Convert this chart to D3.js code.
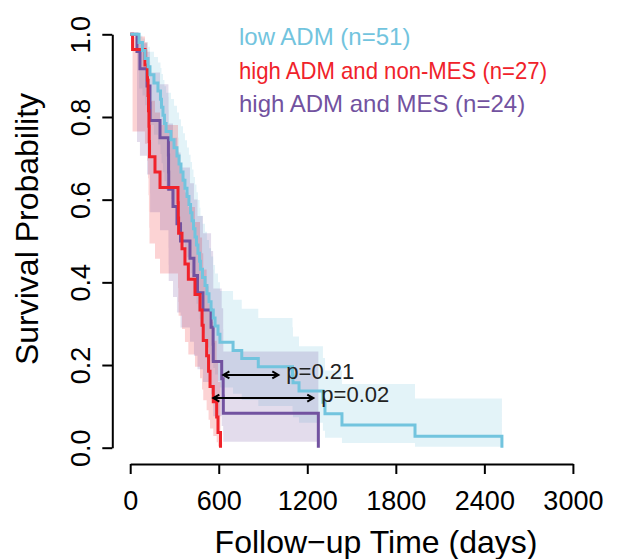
<!DOCTYPE html>
<html>
<head>
<meta charset="utf-8">
<script src="https://cdn.jsdelivr.net/npm/d3@7"></script>
<style>
  body { margin: 0; background: #fff; }
  svg { display: block; }
  text { font-family: "Liberation Sans", Arial, Helvetica, sans-serif; }
</style>
</head>
<body>
<svg id="chart" width="628" height="559"></svg>
<script>
// Follow-up in days: deaths and censored observations for each group
const lowAdmDeaths = [60, 83, 100, 121, 134, 161, 188, 205, 212, 222, 232, 243, 276, 297, 317,
  331, 344, 358, 371, 385, 398, 409, 419, 429, 439, 449, 459, 470, 476, 490, 507, 520, 534, 548,
  563, 575, 595, 608, 697, 756, 868, 1100, 1103, 1144, 1306, 1320, 1435, 1930, 2519];
const lowAdmCensored = [1184, 1218];

const nonMesDeaths = [16, 100, 117, 121, 124, 127, 129, 131, 168, 202, 324, 326, 328, 351, 371,
  394, 439, 473, 487, 495, 518, 531, 541, 563, 586, 595, 612];
const nonMesCensored = [];

const mesDeaths = [46, 66, 114, 134, 135, 202, 259, 260, 261, 290, 317, 341, 405, 432, 456, 493,
  548, 562, 563, 620, 630, 631, 1275];
const mesCensored = [900];

const groupNames = ["low ADM (n=51)", "high ADM and non-MES (n=27)", "high ADM and MES (n=24)"];
const groupColors = ["#72C4DE", "#F0222A", "#7252A0"];

const xTicks = [0, 600, 1200, 1800, 2400, 3000];
const yTicks = [0, 0.2, 0.4, 0.6, 0.8, 1.0];

// log-rank comparisons: label, from-day, to-day, survival level of the arrow
const pLabels = ["p=0.21", "p=0.02"];
const pFrom = [631, 563];
const pTo = [1004, 1241];
const pLevel = [0.176, 0.12];

// Kaplan-Meier estimate with log-log 95% confidence limits
function kaplanMeier(deaths, censored) {
  const obs = deaths.map(t => ({ t, d: 1 })).concat(censored.map(t => ({ t, d: 0 })));
  const times = Array.from(new Set(obs.map(o => o.t))).sort((a, b) => a - b);
  let atRisk = obs.length, s = 1, gw = 0;
  const steps = [{ t: 0, s: 1, lo: 1, hi: 1 }];
  for (const t of times) {
    const here = obs.filter(o => o.t === t);
    const d = here.filter(o => o.d === 1).length;
    if (d > 0) {
      s *= (atRisk - d) / atRisk;
      if (atRisk - d > 0) gw += d / (atRisk * (atRisk - d));
      let lo = NaN, hi = NaN;
      if (s > 0 && s < 1) {
        const z = 1.96 * Math.sqrt(gw) / Math.abs(Math.log(s));
        lo = Math.pow(s, Math.exp(z));
        hi = Math.pow(s, Math.exp(-z));
      }
      steps.push({ t, s, lo, hi });
    }
    atRisk -= here.length;
  }
  return steps;
}

const groups = [
  kaplanMeier(lowAdmDeaths, lowAdmCensored),
  kaplanMeier(nonMesDeaths, nonMesCensored),
  kaplanMeier(mesDeaths, mesCensored)
];

const svg = d3.select("#chart");
const x = d3.scaleLinear().domain([0, 3000]).range([130.2, 572.9]);
const y = d3.scaleLinear().domain([0, 1]).range([447.7, 34.3]);

// confidence bands (stepped), ending at the last death
const area = d3.area()
  .curve(d3.curveStepAfter)
  .x(d => x(d.t))
  .y0(d => y(d.lo))
  .y1(d => y(d.hi));

groups.forEach((steps, i) => {
  const band = [];
  steps.forEach((p, j) => {
    if (!isNaN(p.lo)) band.push(p);
    else if (j > 0) band.push({ t: p.t, lo: steps[j - 1].lo, hi: steps[j - 1].hi });
  });
  const last = steps[steps.length - 1];
  if (!isNaN(last.lo)) band.push({ t: last.t, lo: last.lo, hi: last.hi });
  svg.append("path")
    .attr("d", area(band))
    .attr("fill", groupColors[i])
    .attr("fill-opacity", 0.2)
    .attr("stroke", "none");
});

// survival curves
const line = d3.line()
  .curve(d3.curveStepAfter)
  .x(d => x(d.t))
  .y(d => y(d.s));

[2, 1, 0].forEach(i => {
  svg.append("path")
    .attr("d", line(groups[i]))
    .attr("fill", "none")
    .attr("stroke", groupColors[i])
    .attr("stroke-width", 3)
    .attr("stroke-linejoin", "miter")
    .attr("stroke-linecap", "butt");
});

// axes
const xAxis = svg.append("g")
  .attr("transform", "translate(0,464)")
  .call(d3.axisBottom(x).tickValues(xTicks).tickFormat(d3.format("d")).tickSizeOuter(0).tickSizeInner(10));
xAxis.select(".domain").attr("stroke", "#000").attr("stroke-width", 2);
xAxis.selectAll(".tick line").attr("stroke", "#000").attr("stroke-width", 2);
xAxis.selectAll(".tick text")
  .attr("y", 45.5).attr("dy", null)
  .attr("fill", "#000").attr("font-size", 27).attr("font-family", null);

const yAxis = svg.append("g")
  .attr("transform", "translate(112.3,0)")
  .call(d3.axisLeft(y).tickValues(yTicks).tickFormat(d3.format(".1f")).tickSizeOuter(0).tickSizeInner(10));
yAxis.select(".domain").attr("stroke", "#000").attr("stroke-width", 2);
yAxis.selectAll(".tick line").attr("stroke", "#000").attr("stroke-width", 2);
yAxis.selectAll(".tick text")
  .attr("x", null).attr("dy", null)
  .attr("transform", "translate(-22,0) rotate(-90)")
  .attr("text-anchor", "middle")
  .attr("fill", "#000").attr("font-size", 27).attr("font-family", null);

svg.append("text")
  .attr("x", 376).attr("y", 553)
  .attr("text-anchor", "middle")
  .attr("font-size", 32)
  .text("Follow\u2212up Time (days)");

svg.append("text")
  .attr("transform", "translate(38,229) rotate(-90)")
  .attr("text-anchor", "middle")
  .attr("font-size", 32)
  .text("Survival Probability");

// legend (the long middle entry is set a little tighter)
groupNames.forEach((name, i) => {
  const t = svg.append("text")
    .attr("x", 239).attr("y", 45 + i * 33.7)
    .attr("font-size", 24)
    .attr("fill", groupColors[i])
    .text(name);
  if (i === 1) t.attr("textLength", 308).attr("lengthAdjust", "spacingAndGlyphs");
});

// comparison arrows with p-values
function arrowHead(g, xTip, yTip, dir) {
  const len = 7, ang = Math.PI / 6;
  const pts = [
    [xTip - dir * len * Math.cos(ang), yTip - len * Math.sin(ang)],
    [xTip, yTip],
    [xTip - dir * len * Math.cos(ang), yTip + len * Math.sin(ang)]
  ];
  g.append("path")
    .attr("d", d3.line()(pts))
    .attr("fill", "none").attr("stroke", "#000").attr("stroke-width", 2);
}

pLabels.forEach((lab, i) => {
  const g = svg.append("g");
  const x0 = x(pFrom[i]), x1 = x(pTo[i]), yy = y(pLevel[i]);
  g.append("line")
    .attr("x1", x0).attr("x2", x1).attr("y1", yy).attr("y2", yy)
    .attr("stroke", "#000").attr("stroke-width", 2);
  arrowHead(g, x0, yy, -1);
  arrowHead(g, x1, yy, 1);
  g.append("text")
    .attr("x", x1 + 8).attr("y", yy + 4)
    .attr("font-size", 22)
    .attr("fill", "#222")
    .text(lab);
});
</script>
</body>
</html>
